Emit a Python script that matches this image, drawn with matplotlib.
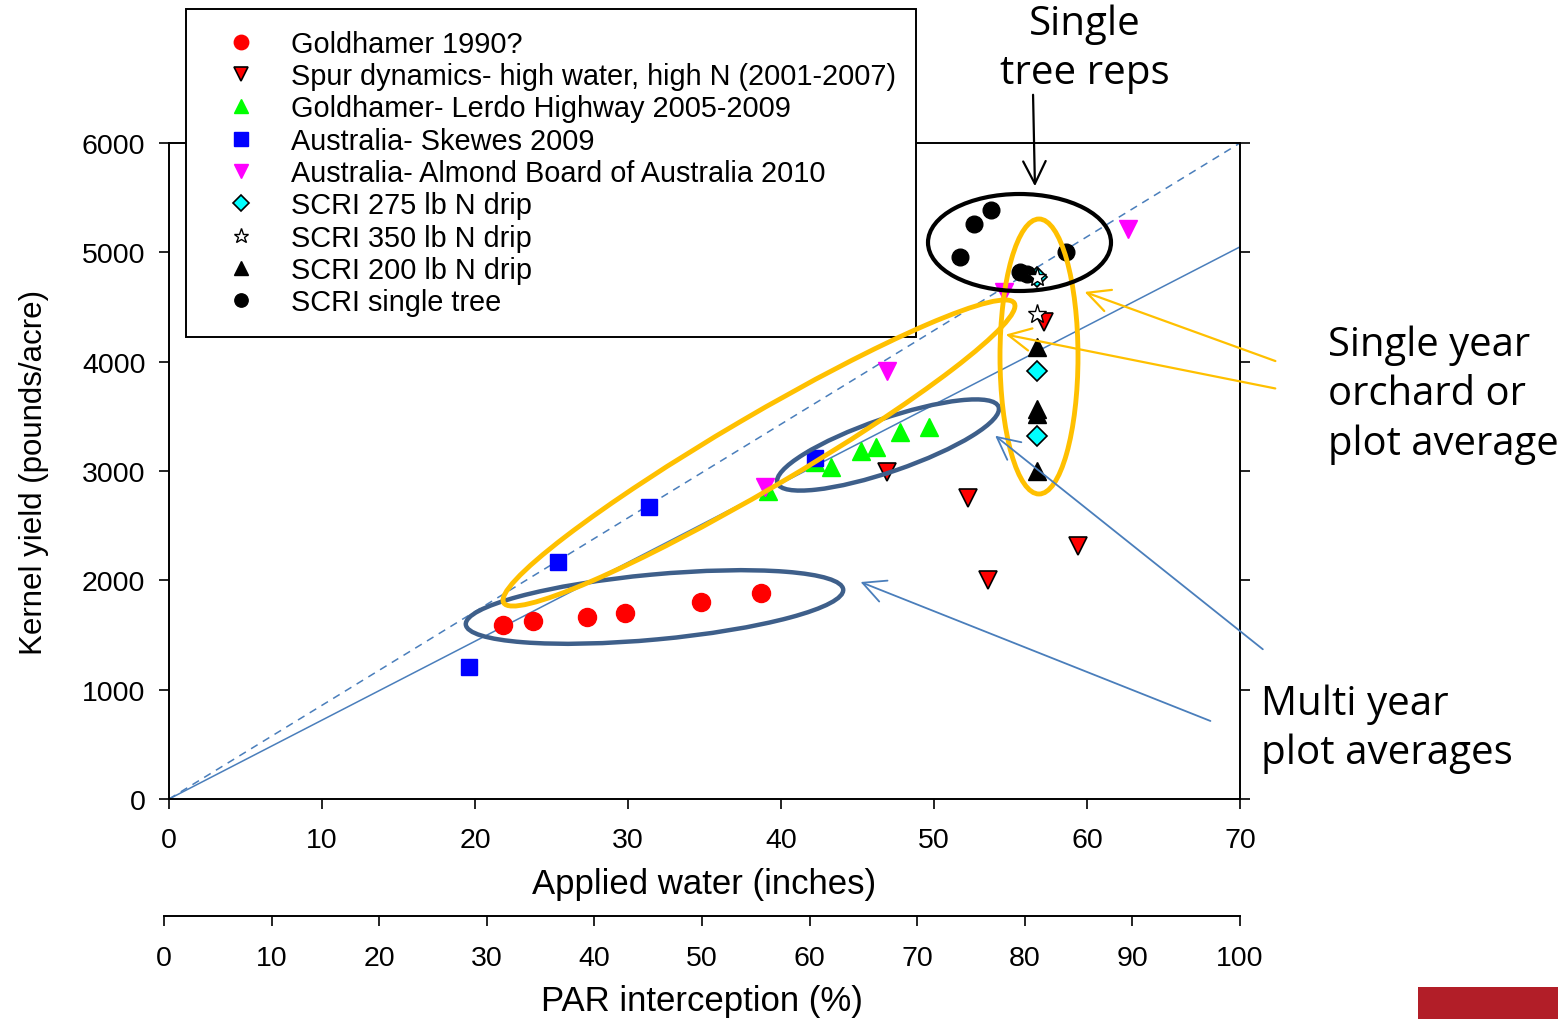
import matplotlib

matplotlib.use("Agg")
import matplotlib.pyplot as plt
from matplotlib.patches import Ellipse, FancyArrowPatch, Rectangle

plt.rcParams["font.family"] = ["Liberation Sans", "DejaVu Sans"]

# data (applied water in inches, kernel yield in lb/acre)
GOLD90_X = [21.8, 23.8, 27.3, 29.8, 34.8, 38.7]
GOLD90_Y = [1590, 1625, 1665, 1705, 1805, 1885]

SPUR_X = [46.9, 52.2, 59.4, 53.5, 57.2]
SPUR_Y = [2994, 2750, 2317, 2006, 4360]

LERDO_X = [39.15, 42.2, 43.3, 45.2, 46.2, 47.8, 49.7]
LERDO_Y = [2821, 3084, 3034, 3187, 3217, 3354, 3400]

SKEWES_X = [19.6, 25.4, 31.4, 42.2]
SKEWES_Y = [1205, 2170, 2668, 3116]

ABA_X = [38.95, 46.9, 54.6, 62.7]
ABA_Y = [2851, 3918, 4635, 5214]

SCRI275_X = [56.7, 56.7, 56.7]
SCRI275_Y = [4773, 3919, 3324]

SCRI350_X = [56.7, 56.7]
SCRI350_Y = [4773, 4437]

SCRI200_X = [56.7, 56.7, 56.7, 56.7]
SCRI200_Y = [4133, 3570, 3520, 3004]

SINGLE_X = [53.7, 52.6, 51.7, 58.6, 55.6, 56.1]
SINGLE_Y = [5391, 5260, 4955, 5007, 4818, 4800]

LINE_X = [0, 70]
DASHED_Y = [0, 6000]
SOLID_Y = [0, 5050]

X_TICKS = [0, 10, 20, 30, 40, 50, 60, 70]
Y_TICKS = [0, 1000, 2000, 3000, 4000, 5000, 6000]
PAR_TICKS = [0, 10, 20, 30, 40, 50, 60, 70, 80, 90, 100]

W, H = 1558, 1020
LINE_BLUE = "#4A7EBB"
ELL_BLUE = "#3E5F8A"
GOLD = "#FFC000"


def fx(px):
    return px / W


def fy(py):
    return 1 - py / H


fig = plt.figure(figsize=(W / 100, H / 100), dpi=100)
ax = fig.add_axes([fx(169), fy(800), fx(1240) - fx(169), fy(144) - fy(800)])

ax.plot(LINE_X, DASHED_Y, color=LINE_BLUE, lw=1.1, ls=(0, (5, 4)), zorder=2)
ax.plot(LINE_X, SOLID_Y, color=LINE_BLUE, lw=1.1, zorder=2)

series = [
    (GOLD90_X, GOLD90_Y, "Goldhamer 1990?", dict(marker="o", ms=13, mfc="#FF0000", mec="#FF0000"), 3),
    (SPUR_X, SPUR_Y, "Spur dynamics- high water, high N (2001-2007)",
     dict(marker="v", ms=13, mfc="#FF0000", mec="black", mew=1.2), 3),
    (LERDO_X, LERDO_Y, "Goldhamer- Lerdo Highway 2005-2009", dict(marker="^", ms=13, mfc="#00FF00", mec="#00FF00"), 3),
    (SKEWES_X, SKEWES_Y, "Australia- Skewes 2009", dict(marker="s", ms=12, mfc="#0000FF", mec="#0000FF"), 4),
    (ABA_X, ABA_Y, "Australia- Almond Board of Australia 2010", dict(marker="v", ms=13, mfc="#FF00FF", mec="#FF00FF"), 4),
    (SCRI275_X, SCRI275_Y, "SCRI 275 lb N drip", dict(marker="D", ms=10, mfc="#00FFFF", mec="black", mew=1.2), 3),
    (SCRI350_X, SCRI350_Y, "SCRI 350 lb N drip", dict(marker="*", ms=14, mfc="white", mec="black", mew=1.0), 4),
    (SCRI200_X, SCRI200_Y, "SCRI 200 lb N drip", dict(marker="^", ms=13, mfc="black", mec="black"), 3),
    (SINGLE_X, SINGLE_Y, "SCRI single tree", dict(marker="o", ms=12, mfc="black", mec="black"), 3),
]
for xs, ys, label, style, z in series:
    ax.plot(xs, ys, ls="none", label=label, zorder=z, **style)

ax.set_xlim(0, 70)
ax.set_ylim(0, 6000)
ax.set_xticks(X_TICKS)
ax.set_yticks(Y_TICKS)
ax.tick_params(axis="both", direction="out", length=7, width=1.2, labelsize=20.5)
ax.tick_params(axis="x", pad=13)
ax.tick_params(axis="y", pad=10, right=True)
for sp in ax.spines.values():
    sp.set_linewidth(1.4)
ax.set_xlabel("Applied water (inches)", fontsize=25, labelpad=10)
ax.set_ylabel("Kernel yield (pounds/acre)", fontsize=22.5, labelpad=24)

leg = ax.legend(
    loc="upper left",
    bbox_to_anchor=(fx(186), fy(10)),
    bbox_transform=fig.transFigure,
    borderaxespad=0,
    fontsize=20.8,
    frameon=True,
    fancybox=False,
    edgecolor="black",
    framealpha=1,
    markerscale=0.8,
    handlelength=2.4,
    handletextpad=0.5,
    borderpad=0.72,
    labelspacing=0.15,
)
leg.get_frame().set_linewidth(1.4)
leg.set_zorder(10)

# secondary scale: PAR interception
ax2 = fig.add_axes([fx(164), fy(917), fx(1240) - fx(164), 0.0005])
ax2.set_xlim(0, 100)
ax2.set_xticks(PAR_TICKS)
ax2.set_yticks([])
for name in ("top", "left", "right"):
    ax2.spines[name].set_visible(False)
ax2.spines["bottom"].set_linewidth(1.4)
ax2.patch.set_alpha(0)
ax2.tick_params(axis="x", direction="out", length=7, width=1.2, labelsize=20.5, pad=14)
ax2.set_xlabel("PAR interception (%)", fontsize=25, labelpad=9)

# slide annotations, in pixel space of the figure
ov = fig.add_axes([0, 0, 1, 1], zorder=20)
ov.set_xlim(0, W)
ov.set_ylim(H, 0)
ov.axis("off")
ov.patch.set_alpha(0)

ellipses = [
    ((654.5, 608), 379, 65, -5.3, ELL_BLUE, 3.2),
    ((888, 446), 234, 53, -19, ELL_BLUE, 3.2),
    ((759, 454), 592, 73, -30.4, GOLD, 3.5),
    ((1039, 357.5), 78, 275, 0, GOLD, 3.5),
    ((1019.5, 243.5), 183, 97, 0, "black", 3.0),
]
for center, w, h, ang, col, lw in ellipses:
    ov.add_patch(Ellipse(center, w, h, angle=ang, fill=False, edgecolor=col, lw=lw))

arrows = [
    ((1033, 93), (1035, 190), "black", 1.6),
    ((1278, 363), (1082, 292), GOLD, 1.6),
    ((1278, 390), (1003, 335), GOLD, 1.6),
    ((1213, 723), (858, 582), LINE_BLUE, 1.3),
    ((1265, 652), (993, 435), LINE_BLUE, 1.3),
]
for start, end, col, lw in arrows:
    ov.add_patch(FancyArrowPatch(start, end, arrowstyle="->,head_length=0.9,head_width=0.45",
                                 mutation_scale=18, color=col, lw=lw))

note_font = ["Open Sans", "DejaVu Sans"]
ov.text(1085, 49, "Single\ntree reps", ha="center", va="center", fontsize=29,
        family=note_font, linespacing=1.27)
ov.text(1328, 395, "Single year\norchard or\nplot average", ha="left", va="center",
        fontsize=28.8, family=note_font, linespacing=1.29)
ov.text(1261, 729, "Multi year\nplot averages", ha="left", va="center",
        fontsize=29, family=note_font, linespacing=1.27)

ov.add_patch(Rectangle((1418, 988), 140, 32, facecolor="#B21E28", edgecolor="none"))

fig.savefig("out.png", dpi=100)
